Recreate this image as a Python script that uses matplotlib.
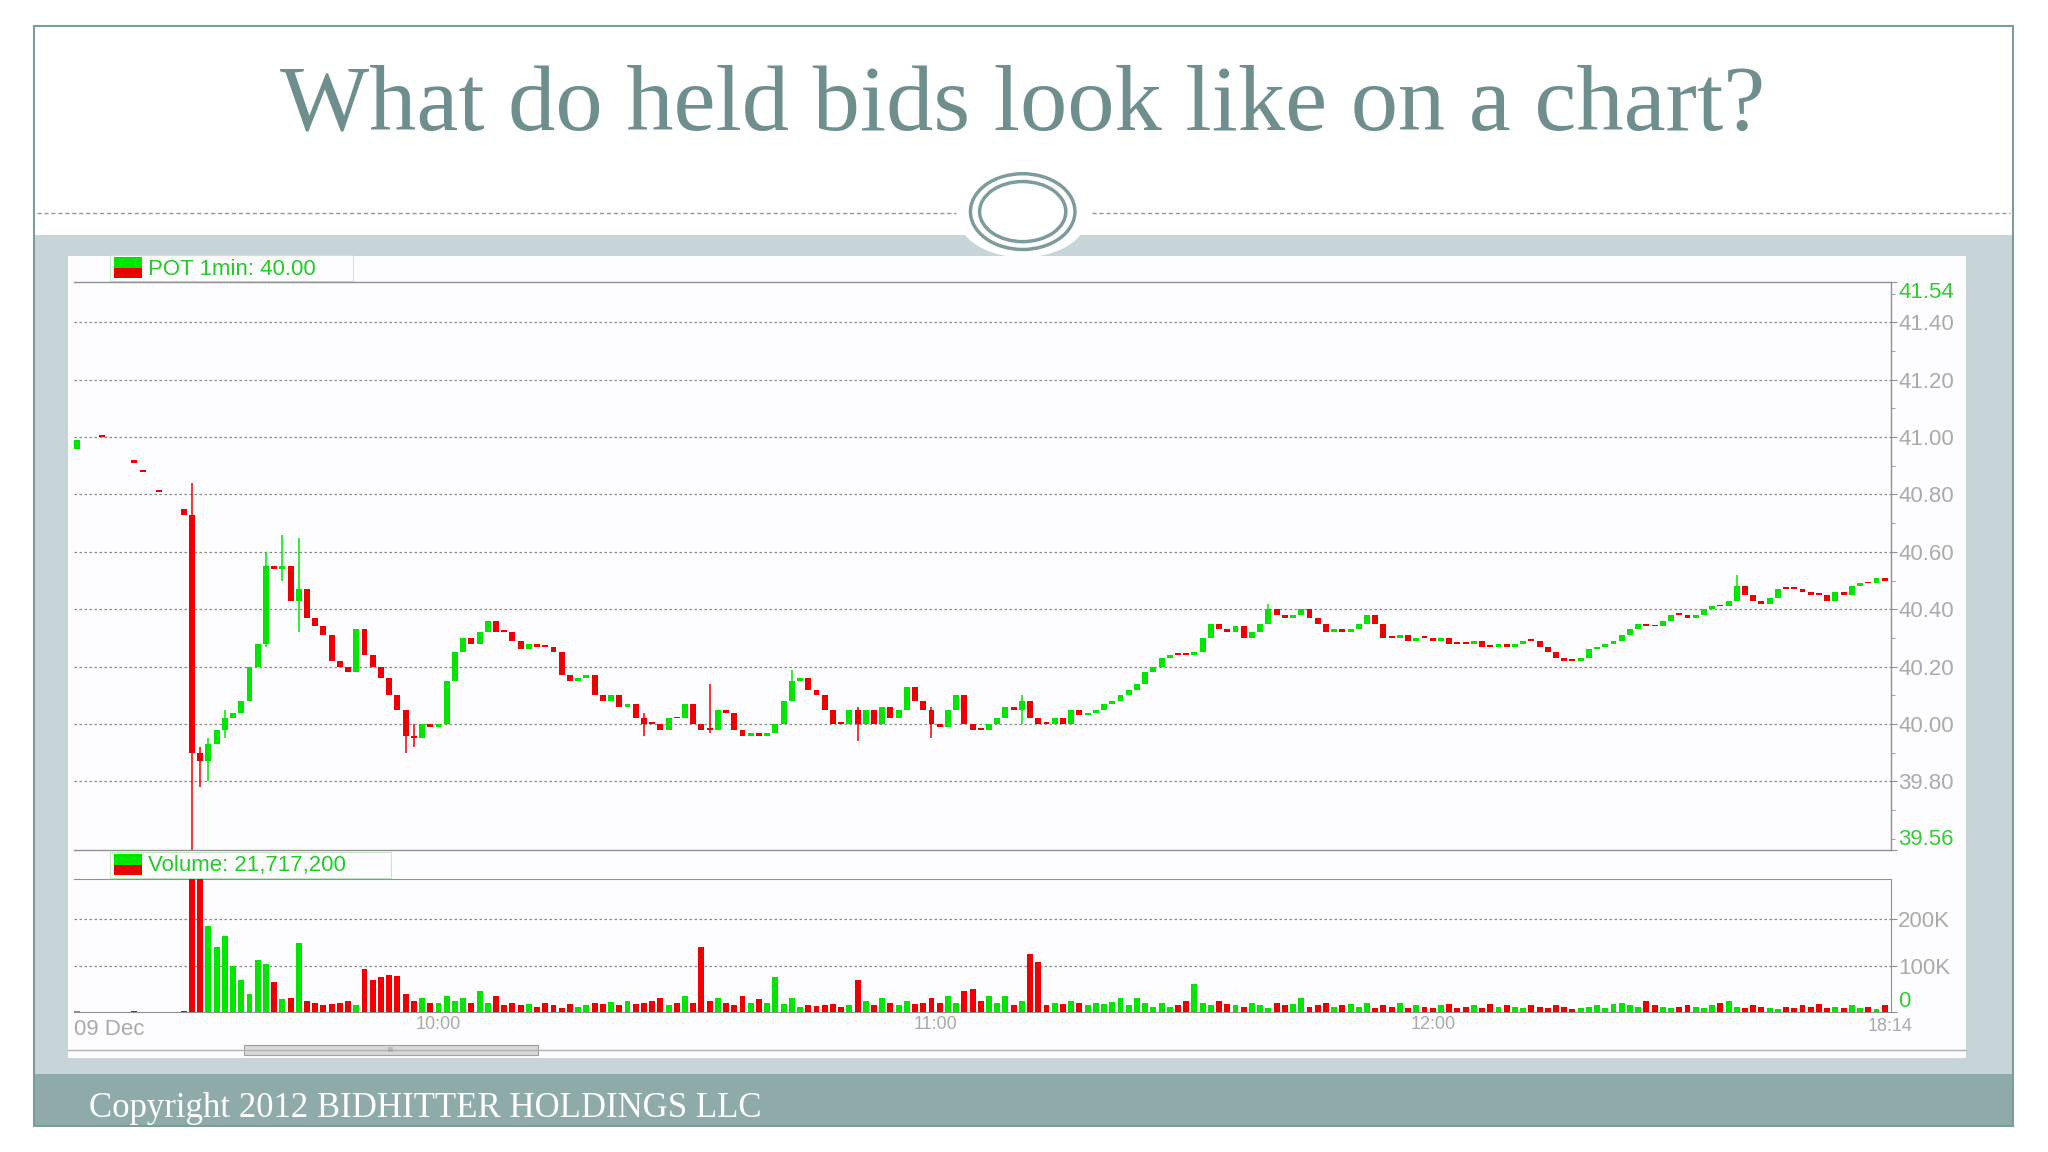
import matplotlib
matplotlib.use("Agg")
import matplotlib.pyplot as plt
from matplotlib.patches import Rectangle, Ellipse
import numpy as np

# ---------------- data ----------------
title = "What do held bids look like on a chart?"
footer = "Copyright 2012 BIDHITTER HOLDINGS LLC"
price_label = "POT 1min: 40.00"
volume_label = "Volume: 21,717,200"

pre_idx = [-14, -11, -7, -6, -4, -1]
pre_open = [40.96, 41.00, 40.92, 40.88, 40.81, 40.75]
pre_close = [40.99, 41.00, 40.91, 40.88, 40.81, 40.73]
pre_vol = [2, 1, 2, 1, 1, 3]

first_open = 40.73
closes = [39.90, 39.87, 39.93, 39.98, 40.02, 40.04, 40.08, 40.20, 40.28, 40.55,
          40.54, 40.55, 40.43, 40.47, 40.37, 40.34, 40.31, 40.22, 40.20, 40.18,
          40.33, 40.24, 40.20, 40.16, 40.10, 40.05, 39.96, 39.95, 40.00, 39.99,
          40.00, 40.15, 40.25, 40.30, 40.28, 40.32, 40.36, 40.32, 40.32, 40.29,
          40.26, 40.28, 40.27, 40.27, 40.25, 40.17, 40.15, 40.16, 40.17, 40.10,
          40.08, 40.10, 40.06, 40.07, 40.02, 40.00, 40.00, 39.98, 40.02, 40.02,
          40.07, 40.00, 39.98, 39.98, 40.05, 40.04, 39.98, 39.96, 39.97, 39.96,
          39.97, 40.00, 40.08, 40.15, 40.16, 40.12, 40.10, 40.05, 40.00, 40.00,
          40.05, 40.00, 40.05, 40.00, 40.06, 40.02, 40.05, 40.13, 40.08, 40.05,
          40.00, 39.99, 40.05, 40.10, 40.00, 39.98, 39.98, 40.00, 40.02, 40.06,
          40.05, 40.08, 40.02, 40.00, 40.00, 40.02, 40.00, 40.05, 40.03, 40.04,
          40.05, 40.07, 40.08, 40.10, 40.12, 40.14, 40.18, 40.20, 40.23, 40.24,
          40.24, 40.24, 40.25, 40.30, 40.35, 40.33, 40.32, 40.34, 40.30, 40.32,
          40.35, 40.40, 40.38, 40.37, 40.38, 40.40, 40.37, 40.35, 40.32, 40.33,
          40.32, 40.33, 40.35, 40.38, 40.35, 40.30, 40.30, 40.31, 40.29, 40.30,
          40.30, 40.29, 40.30, 40.28, 40.28, 40.28, 40.29, 40.27, 40.27, 40.28,
          40.27, 40.28, 40.29, 40.29, 40.27, 40.25, 40.23, 40.22, 40.22, 40.23,
          40.26, 40.27, 40.28, 40.29, 40.31, 40.33, 40.35, 40.34, 40.34, 40.36,
          40.38, 40.38, 40.37, 40.38, 40.40, 40.41, 40.41, 40.43, 40.48, 40.45,
          40.43, 40.42, 40.44, 40.47, 40.47, 40.47, 40.46, 40.45, 40.45, 40.43,
          40.46, 40.45, 40.48, 40.49, 40.49, 40.51, 40.50]

# notable wicks: index -> (high, low)
wick_idx = [0, 1, 2, 4, 9, 11, 13, 26, 27, 55, 63, 73, 81, 90, 101, 131, 188]
wick_high = [40.84, 39.92, 39.95, 40.05, 40.60, 40.66, 40.65, 40.00, 40.00, 40.04, 40.14, 40.19, 40.06, 40.06, 40.10, 40.42, 40.52]
wick_low = [39.56, 39.78, 39.80, 39.95, 40.27, 40.50, 40.32, 39.90, 39.92, 39.96, 39.97, 40.10, 39.94, 39.95, 40.00, 40.35, 40.43]

volumes = [330, 330, 185, 140, 165, 100, 70, 40, 112, 105,
           65, 28, 30, 150, 25, 20, 15, 18, 20, 25,
           15, 93, 70, 75, 80, 78, 40, 25, 30, 20,
           20, 35, 25, 30, 20, 45, 20, 35, 15, 20,
           15, 18, 12, 20, 15, 10, 18, 12, 15, 20,
           18, 22, 15, 25, 18, 20, 25, 30, 15, 20,
           35, 20, 140, 25, 30, 20, 15, 35, 20, 28,
           20, 75, 18, 30, 12, 15, 14, 15, 18, 12,
           15, 70, 25, 15, 30, 20, 15, 25, 18, 20,
           30, 20, 35, 20, 45, 50, 25, 35, 20, 35,
           15, 25, 125, 108, 15, 20, 18, 25, 20, 15,
           20, 18, 22, 30, 15, 30, 20, 12, 20, 12,
           15, 25, 60, 20, 15, 25, 18, 15, 12, 20,
           15, 10, 20, 15, 18, 30, 12, 15, 20, 12,
           15, 18, 12, 20, 10, 15, 12, 20, 10, 15,
           12, 10, 15, 18, 10, 12, 15, 10, 18, 12,
           15, 12, 10, 15, 12, 10, 15, 12, 8, 10,
           12, 15, 10, 18, 20, 15, 12, 25, 15, 12,
           10, 12, 15, 12, 10, 15, 20, 25, 12, 10,
           15, 12, 10, 8, 12, 10, 15, 12, 18, 10,
           12, 10, 15, 10, 12, 8, 15]

price_ticks = [41.40, 41.20, 41.00, 40.80, 40.60, 40.40, 40.20, 40.00, 39.80]
price_ymin, price_ymax = 39.56, 41.54
vol_ticks = [0, 100, 200]
vol_tick_labels = ["0", "100K", "200K"]
time_tick_pos = [30, 90.5, 151]
time_tick_labels = ["10:00", "11:00", "12:00"]

# ---------------- derived ----------------
n = min(len(closes), len(volumes))
closes = closes[:n]
volumes = volumes[:n]
idx = np.arange(n)
opens = np.array([first_open] + closes[:-1])
closes = np.array(closes)
highs = np.maximum(opens, closes)
lows = np.minimum(opens, closes)
for i, h, l in zip(wick_idx, wick_high, wick_low):
    highs[i] = max(highs[i], h)
    lows[i] = min(lows[i], l)

GREEN = "#00e600"
RED = "#ee0000"
cols = [GREEN if c > o else RED for o, c in zip(opens, closes)]
pcols = [GREEN if c > o else RED for o, c in zip(pre_open, pre_close)]

W, H = 1568, 882
def fx(x): return x / W
def fy(y): return 1 - y / H

SANS = ["Liberation Sans", "DejaVu Sans"]
fig = plt.figure(figsize=(20.48, 11.52), dpi=100)
fig.patch.set_facecolor("white")
bg = fig.add_axes([0, 0, 1, 1])
bg.set_xlim(0, W); bg.set_ylim(H, 0); bg.axis("off")

frame_col = "#7c9c9b"
bg.add_patch(Rectangle((26, 180), 1515, 642, facecolor="#c7d5d8", edgecolor="none"))
bg.add_patch(Rectangle((26, 822), 1515, 40, facecolor="#8eaba9", edgecolor="none"))
bg.add_patch(Rectangle((26, 20), 1515, 842, facecolor="none", edgecolor=frame_col, lw=1.5))
bg.plot([28, 732], [163, 163], ls=(0, (3, 2)), color="#8a9c9c", lw=1)
bg.plot([836, 1539], [163, 163], ls=(0, (3, 2)), color="#8a9c9c", lw=1)
bg.add_patch(Ellipse((783, 165), 100, 64, facecolor="white", edgecolor="none"))
bg.add_patch(Ellipse((783, 162), 80, 58, facecolor="white", edgecolor=frame_col, lw=2.5))
bg.add_patch(Ellipse((783, 162), 66, 46, facecolor="white", edgecolor=frame_col, lw=2.5))
bg.text(783, 82, title, ha="center", va="center", fontsize=68,
        family="Liberation Serif", color="#6e8f8e")
bg.text(68, 849, footer, ha="left", va="center", fontsize=25,
        family="Liberation Serif", color="white")
bg.add_patch(Rectangle((52, 196), 1453, 614, facecolor="#fdfdff", edgecolor="none"))
# scrollbar
bg.plot([52, 1505], [804, 804], color="#b0b0b0", lw=1)
bg.add_patch(Rectangle((187, 800), 225, 8, facecolor="#d8d8d8", edgecolor="#a0a0a0", lw=0.8))
bg.text(299, 804, "III", fontsize=5, ha="center", va="center", color="#888888")

# legend boxes
def legend(y, text, width):
    bg.add_patch(Rectangle((84, y - 1), width, 20, facecolor="none", edgecolor="#c8e8c8", lw=0.8))
    bg.add_patch(Rectangle((87, y + 1), 22, 8, facecolor=GREEN, edgecolor="none"))
    bg.add_patch(Rectangle((87, y + 9), 22, 8, facecolor=RED, edgecolor="none"))
    bg.text(113, y + 10, text, fontsize=16, color="#22cc22", va="center", ha="left", family=SANS)
legend(196, price_label, 186)
legend(653, volume_label, 215)

xl = (-14.3, 206.8)
cw = 0.72

# price axes
axp = fig.add_axes([fx(57), fy(651), fx(1448) - fx(57), fy(216) - fy(651)])
axp.set_facecolor("none")
axp.set_xlim(*xl); axp.set_ylim(price_ymin, price_ymax)
for t in price_ticks:
    axp.axhline(t, color="#888888", lw=0.9, ls=(0, (2, 2)), zorder=0)
axp.vlines(idx, lows, highs, colors=cols, lw=1.1, zorder=2)
axp.bar(idx, np.maximum(np.abs(closes - opens), 0.006), bottom=np.minimum(opens, closes),
        width=cw, color=cols, zorder=3)
axp.bar(pre_idx, np.maximum(np.abs(np.array(pre_close) - np.array(pre_open)), 0.006),
        bottom=np.minimum(pre_open, pre_close), width=cw, color=pcols, zorder=3)
axp.spines["left"].set_visible(False)
for s in ["top", "bottom", "right"]:
    axp.spines[s].set_color("#909090"); axp.spines[s].set_linewidth(1)
axp.set_xticks([])
axp.yaxis.tick_right()
axp.set_yticks(price_ticks + [price_ymin, price_ymax])
axp.set_yticklabels([f"{t:.2f}" for t in price_ticks] + [f"{price_ymin:.2f}", f"{price_ymax:.2f}"],
                    family=SANS)
axp.set_yticks(np.arange(39.6, 41.55, 0.1), minor=True)
axp.tick_params(axis="y", which="major", length=4, color="#909090", labelsize=16,
                labelcolor="#aaaaaa", pad=1)
axp.tick_params(axis="y", which="minor", length=3, color="#909090")
labs = axp.get_yticklabels()
labs[-1].set_color("#33cc33"); labs[-2].set_color("#33cc33")
labs[-1].set_va("top"); labs[-2].set_va("bottom")

# volume axes
axv = fig.add_axes([fx(57), fy(775), fx(1448) - fx(57), fy(673) - fy(775)])
axv.set_facecolor("none")
axv.set_xlim(*xl); axv.set_ylim(0, 287)
for t in vol_ticks[1:]:
    axv.axhline(t, color="#888888", lw=0.9, ls=(0, (2, 2)), zorder=0)
axv.bar(idx, volumes, width=cw, color=cols, zorder=3)
axv.bar(pre_idx, pre_vol, width=cw, color=pcols, zorder=3)
axv.spines["left"].set_visible(False)
for s in ["top", "bottom", "right"]:
    axv.spines[s].set_color("#909090")
axv.yaxis.tick_right()
axv.set_yticks(vol_ticks)
axv.set_yticklabels(vol_tick_labels, family=SANS)
axv.tick_params(axis="y", length=4, color="#909090", labelsize=16, labelcolor="#aaaaaa", pad=1)
axv.get_yticklabels()[0].set_color("#33cc33")
axv.get_yticklabels()[0].set_va("bottom")
axv.set_xticks(time_tick_pos)
axv.set_xticklabels(time_tick_labels, family=SANS)
axv.tick_params(axis="x", length=0, labelsize=13, labelcolor="#aaaaaa", pad=3)
bg.text(57, 788, "09 Dec", fontsize=16, color="#aaaaaa", va="center", ha="left", family=SANS)
bg.text(1447, 786, "18:14", fontsize=13, color="#aaaaaa", va="center", ha="center", family=SANS)

fig.savefig("out.png", dpi=100, facecolor="white")
